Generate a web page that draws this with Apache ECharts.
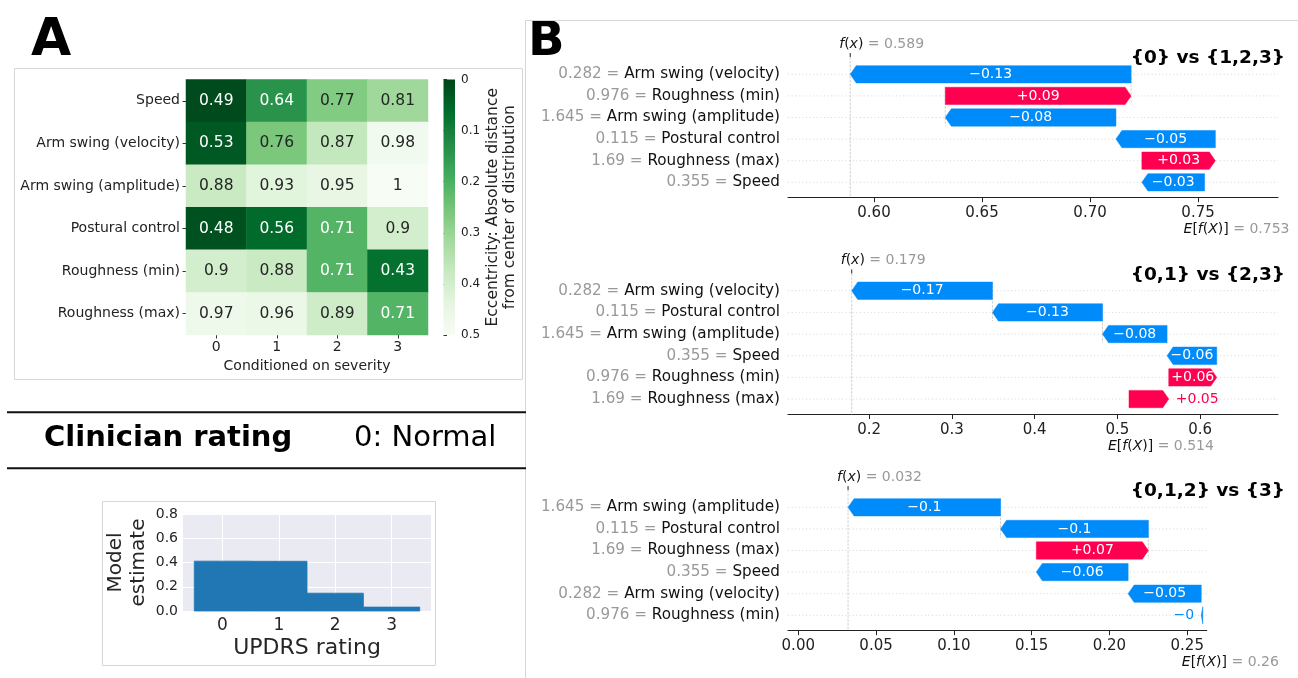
<!DOCTYPE html>
<html>
<head>
<meta charset="utf-8">
<script src="https://cdn.jsdelivr.net/npm/echarts@6/dist/echarts.min.js"></script>
<style>
html,body{margin:0;padding:0;background:#fff;}
#chart{width:1298px;height:678px;}
</style>
</head>
<body>
<div id="chart"></div>
<script>
// ---------------- DATA ----------------
// Panel A: heatmap
const heatFeatures = ['Speed', 'Arm swing (velocity)', 'Arm swing (amplitude)', 'Postural control', 'Roughness (min)', 'Roughness (max)'];
const heatSeverity = ['0', '1', '2', '3'];
const heatSpeed       = [0.49, 0.64, 0.77, 0.81];
const heatArmVelocity = [0.53, 0.76, 0.87, 0.98];
const heatArmAmplitude= [0.88, 0.93, 0.95, 1];
const heatPostural    = [0.48, 0.56, 0.71, 0.9];
const heatRoughMin    = [0.9, 0.88, 0.71, 0.43];
const heatRoughMax    = [0.97, 0.96, 0.89, 0.71];
const colorbarRange   = [0, 0.5];
const colorbarTicks   = [0, 0.1, 0.2, 0.3, 0.4, 0.5];

// Panel A: model estimate
const updrsRatings  = [0, 1, 2, 3];
const modelEstimate = [0.411, 0.410, 0.147, 0.032];
const estimateTicks = [0, 0.2, 0.4, 0.6, 0.8];

// Panel B: waterfalls
const p1Title = '{0} vs {1,2,3}';
const p1Features = ['Arm swing (velocity)', 'Roughness (min)', 'Arm swing (amplitude)', 'Postural control', 'Roughness (max)', 'Speed'];
const p1FeatureValues = ['0.282', '0.976', '1.645', '0.115', '1.69', '0.355'];
const p1Shap = [-0.130, 0.086, -0.079, -0.046, 0.034, -0.029];
const p1Base = 0.753;
const p1Ticks = ['0.60', '0.65', '0.70', '0.75'];
const p1Range = [0.5602, 0.787];

const p2Title = '{0,1} vs {2,3}';
const p2Features = ['Arm swing (velocity)', 'Postural control', 'Arm swing (amplitude)', 'Speed', 'Roughness (min)', 'Roughness (max)'];
const p2FeatureValues = ['0.282', '0.115', '1.645', '0.355', '0.976', '1.69'];
const p2Shap = [-0.170, -0.133, -0.078, -0.060, 0.058, 0.048];
const p2Base = 0.514;
const p2Ticks = ['0.2', '0.3', '0.4', '0.5', '0.6'];
const p2Range = [0.102, 0.694];

const p3Title = '{0,1,2} vs {3}';
const p3Features = ['Arm swing (amplitude)', 'Postural control', 'Roughness (max)', 'Speed', 'Arm swing (velocity)', 'Roughness (min)'];
const p3FeatureValues = ['1.645', '0.115', '1.69', '0.355', '0.282', '0.976'];
const p3Shap = [-0.098, -0.095, 0.072, -0.059, -0.047, -0.001];
const p3Base = 0.26;
const p3Ticks = ['0.00', '0.05', '0.10', '0.15', '0.20', '0.25'];
const p3Range = [-0.0066, 0.2625];

// ---------------- STYLE / LAYOUT ----------------
const FONT = '"DejaVu Sans", sans-serif';
const BLUE = '#008bfb', RED = '#ff0051';
const GREENS = ['#00441b', '#006d2c', '#238b45', '#41ab5d', '#74c476', '#a1d99b', '#c7e9c0', '#e5f5e0', '#f7fcf5'];
const AXIS_OFFSET = 4.6;

const panels = [
  {title: p1Title, features: p1Features, fvals: p1FeatureValues, shap: p1Shap, base: p1Base, ticks: p1Ticks, range: p1Range, left: 788, width: 490, top: 63.5, height: 129.6},
  {title: p2Title, features: p2Features, fvals: p2FeatureValues, shap: p2Shap, base: p2Base, ticks: p2Ticks, range: p2Range, left: 788, width: 490, top: 279.9, height: 130},
  {title: p3Title, features: p3Features, fvals: p3FeatureValues, shap: p3Shap, base: p3Base, ticks: p3Ticks, range: p3Range, left: 788, width: 418.7, top: 496.5, height: 129.6}
];

// shap's format_value: strip trailing zeros, unicode minus
function fmtVal(v, dec, sign) {
  const m = Math.pow(10, dec);
  let s = Math.abs(Math.round(Math.abs(v) * m + 1e-9) / m).toFixed(dec);
  if (v < 0) s = '-' + s;
  else if (sign) s = '+' + s;
  if (s.indexOf('.') >= 0) s = s.replace(/0+$/, '').replace(/\.$/, '');
  if (s[0] === '-') s = '\u2212' + s.slice(1);
  return s;
}

const mctx = document.createElement('canvas').getContext('2d');
function textW(str, size) { mctx.font = size + 'px "DejaVu Sans"'; return mctx.measureText(str).width; }

// cumulative positions
panels.forEach(p => {
  const n = p.shap.length;
  p.starts = new Array(n); p.ends = new Array(n);
  let acc = p.base;
  for (let i = n - 1; i >= 0; i--) { p.starts[i] = acc; acc += p.shap[i]; p.ends[i] = acc; }
  p.fx = acc;
  p.barData = p.shap.map((v, i) => [i, p.starts[i], p.ends[i], v]);
});

// heatmap data
const heatRows = [heatSpeed, heatArmVelocity, heatArmAmplitude, heatPostural, heatRoughMin, heatRoughMax];
const heatData = [];
heatRows.forEach((row, r) => row.forEach((v, c) => {
  const ecc = Math.abs(v - 0.5);
  heatData.push({value: [c, r, v, ecc], label: {color: ecc < 0.25 ? '#ffffff' : '#262626'}});
}));

// ---------------- OPTION ----------------
const grids = [
  {left: 186, top: 79.5, width: 242, height: 255.5},          // heatmap
  {left: 443.5, top: 79.5, width: 11.5, height: 255.5},       // colorbar
  {left: 183, top: 514, width: 248, height: 97, show: true, backgroundColor: '#eaeaf2', borderWidth: 0} // estimate
];
panels.forEach(p => grids.push({left: p.left, top: p.top, width: p.width, height: p.height}));
grids.forEach(g => { g.containLabel = false; g.outerBoundsMode = 'none'; });

const xAxes = [
  {gridIndex: 0, type: 'category', data: heatSeverity, position: 'bottom',
   axisLine: {show: false}, axisTick: {show: true, alignWithLabel: true, length: 3.5, lineStyle: {color: '#333'}},
   axisLabel: {fontFamily: FONT, fontSize: 14, color: '#222', margin: 5},
   splitLine: {show: false},
   name: 'Conditioned on severity', nameLocation: 'middle', nameGap: 24,
   nameTextStyle: {fontFamily: FONT, fontSize: 14, color: '#222'}},
  {gridIndex: 1, type: 'value', show: false, min: 0, max: 1},
  {gridIndex: 2, type: 'value', min: -0.7, max: 3.7,
   axisLine: {show: false},
   axisTick: {show: false, customValues: updrsRatings},
   axisLabel: {customValues: updrsRatings, fontFamily: FONT, fontSize: 17, color: '#262626', margin: 6},
   splitLine: {show: true, lineStyle: {color: '#ffffff', width: 1}},
   name: 'UPDRS rating', nameLocation: 'middle', nameGap: 26,
   nameTextStyle: {fontFamily: FONT, fontSize: 22, color: '#262626'}}
];
const yAxes = [
  {gridIndex: 0, type: 'category', data: heatFeatures, inverse: true,
   axisLine: {show: false}, axisTick: {show: true, alignWithLabel: true, length: 3.5, lineStyle: {color: '#333'}},
   axisLabel: {fontFamily: FONT, fontSize: 14, color: '#222', margin: 6},
   splitLine: {show: false}},
  {gridIndex: 1, type: 'value', min: colorbarRange[0], max: colorbarRange[1], inverse: true, position: 'right',
   axisLine: {show: false}, axisTick: {show: true, length: 3.5, customValues: colorbarTicks, lineStyle: {color: '#333'}},
   axisLabel: {customValues: colorbarTicks, fontFamily: FONT, fontSize: 12, color: '#222', margin: 6, formatter: v => String(+v.toFixed(1))},
   splitLine: {show: false},
   name: 'Eccentricity: Absolute distance\nfrom center of distribution', nameLocation: 'middle', nameRotate: 90, nameGap: 29,
   nameTextStyle: {fontFamily: FONT, fontSize: 15.5, color: '#222', lineHeight: 17}},
  {gridIndex: 2, type: 'value', min: 0, max: 0.8, interval: 0.2,
   axisLine: {show: false}, axisTick: {show: false},
   axisLabel: {fontFamily: FONT, fontSize: 14, color: '#262626', margin: 5, formatter: v => v.toFixed(1)},
   splitLine: {show: true, lineStyle: {color: '#ffffff', width: 1}},
   name: 'Model\nestimate', nameLocation: 'middle', nameRotate: 90, nameGap: 33,
   nameTextStyle: {fontFamily: FONT, fontSize: 20, color: '#262626', lineHeight: 23}}
];

const series = [
  {type: 'heatmap', xAxisIndex: 0, yAxisIndex: 0, data: heatData,
   label: {show: true, fontFamily: FONT, fontSize: 15.5, formatter: p => String(p.value[2]), textBorderWidth: 0},
   itemStyle: {borderWidth: 0}, emphasis: {disabled: true}},
  {type: 'custom', xAxisIndex: 2, yAxisIndex: 2, data: updrsRatings.map((r, i) => [r, modelEstimate[i]]),
   encode: {x: 0, y: 1}, silent: true,
   renderItem: (params, api) => {
     const x = api.value(0), v = api.value(1);
     const a = api.coord([x - 0.5, v]), b = api.coord([x + 0.5, 0]);
     return {type: 'rect', shape: {x: a[0], y: a[1], width: b[0] - a[0], height: b[1] - a[1]},
       style: {fill: '#2077b4', stroke: '#2077b4', lineWidth: 0.8}};
   }},
  // colorbar gradient drawn on its own axis
  {type: 'custom', xAxisIndex: 1, yAxisIndex: 1, data: [[0, colorbarRange[0], 1, colorbarRange[1]]],
   encode: {x: [0, 2], y: [1, 3]}, silent: true,
   renderItem: (params, api) => {
     const a = api.coord([api.value(0), api.value(1)]), b = api.coord([api.value(2), api.value(3)]);
     const stops = GREENS.map((c, i) => ({offset: i / (GREENS.length - 1), color: c}));
     return {type: 'rect', shape: {x: a[0], y: a[1], width: b[0] - a[0], height: b[1] - a[1]},
       style: {fill: new echarts.graphic.LinearGradient(0, 0, 0, 1, stops)}};
   }}
];

panels.forEach((p, k) => {
  const gi = 3 + k;
  xAxes.push({gridIndex: gi, type: 'value', min: p.range[0], max: p.range[1], offset: AXIS_OFFSET,
    axisLine: {show: true, onZero: false, lineStyle: {color: '#222', width: 1.2}},
    axisTick: {show: true, length: 4.5, customValues: p.ticks.map(Number), lineStyle: {color: '#222', width: 1}},
    axisLabel: {customValues: p.ticks.map(Number), fontFamily: FONT, fontSize: 15, color: '#222', margin: 8,
      formatter: v => { const i = p.ticks.map(Number).findIndex(t => Math.abs(t - v) < 1e-9); return i >= 0 ? p.ticks[i] : ''; }},
    splitLine: {show: false}});
  yAxes.push({gridIndex: gi, type: 'category', data: p.features, inverse: true,
    axisLine: {show: false}, axisTick: {show: false}, splitLine: {show: false},
    axisLabel: {margin: 8, fontFamily: FONT, fontSize: 15.2,
      formatter: (value, idx) => '{v|' + p.fvals[idx] + ' = }{n|' + value + '}',
      rich: {v: {color: '#999999', fontFamily: FONT, fontSize: 15.2}, n: {color: '#111111', fontFamily: FONT, fontSize: 15.2}}}});

  // annotations: f(x) line, connectors, labels, row guides
  series.push({type: 'custom', xAxisIndex: gi, yAxisIndex: gi, z: 1, silent: true, clip: false,
    data: [[p.fx, 0]], encode: {x: 0, y: 1},
    renderItem: (params, api) => {
      const cs = params.coordSys;
      const band = api.size([0, 1])[1];
      const axesTop = cs.y - 0.3 * band;
      const axisY = cs.y + cs.height + AXIS_OFFSET;
      const children = [];
      const n = p.shap.length;
      for (let i = 0; i < n; i++) {
        const yc = api.coord([p.range[0], i])[1];
        children.push({type: 'line', shape: {x1: cs.x, y1: yc, x2: cs.x + cs.width, y2: yc},
          style: {stroke: '#cccccc', lineWidth: 0.8, lineDash: [1, 2.6]}});
      }
      for (let i = 0; i + 4 < n; i++) {
        const x = api.coord([p.starts[i], i])[0];
        const y1 = api.coord([p.starts[i], i])[1] - 0.4 * band;
        const y2 = api.coord([p.starts[i], i + 1])[1] + 0.4 * band;
        children.push({type: 'line', shape: {x1: x, y1: y1, x2: x, y2: y2},
          style: {stroke: '#bbbbbb', lineWidth: 0.7, lineDash: [2.6, 1.2]}});
      }
      const fxX = api.coord([p.fx, 0])[0];
      children.push({type: 'line', shape: {x1: fxX, y1: axesTop, x2: fxX, y2: axisY},
        style: {stroke: '#bbbbbb', lineWidth: 0.7, lineDash: [2.6, 1.2]}});
      children.push({type: 'line', shape: {x1: fxX, y1: axesTop - 4, x2: fxX, y2: axesTop},
        style: {stroke: '#222', lineWidth: 1}});
      children.push({type: 'text', x: fxX - 11, y: axesTop - 13,
        style: {text: '{i|f}({i|x}){g| = ' + fmtVal(p.fx, 3, false) + '}', align: 'left', verticalAlign: 'middle',
          font: '14px ' + FONT, fill: '#111',
          rich: {i: {fontStyle: 'italic', fontFamily: FONT, fontSize: 14, fill: '#111'}, g: {fill: '#999999', fontFamily: FONT, fontSize: 14}}}});
      const bX = api.coord([p.base, 0])[0];
      children.push({type: 'text', x: bX - 21, y: axisY + 31.5,
        style: {text: '{i|E}[{i|f}({i|X})]{g| = ' + fmtVal(p.base, 3, false) + '}', align: 'left', verticalAlign: 'middle',
          font: '14px ' + FONT, fill: '#111',
          rich: {i: {fontStyle: 'italic', fontFamily: FONT, fontSize: 14, fill: '#111'}, g: {fill: '#999999', fontFamily: FONT, fontSize: 14}}}});
      return {type: 'group', children: children};
    }});

  // waterfall bars
  series.push({type: 'custom', xAxisIndex: gi, yAxisIndex: gi, z: 2, silent: true, clip: false,
    data: p.barData, encode: {x: [1, 2], y: 0},
    renderItem: (params, api) => {
      const row = api.value(0), s = api.value(1), e = api.value(2), v = api.value(3);
      const band = api.size([0, 1])[1];
      const h = band * 0.8;
      const ps = api.coord([s, row]), pe = api.coord([e, row]);
      const y = ps[1], x0 = ps[0], xt = pe[0];
      const dir = xt >= x0 ? 1 : -1;
      const len = Math.abs(xt - x0);
      const hl = Math.min(6, len);
      const xb = xt - dir * hl;
      const color = v >= 0 ? RED : BLUE;
      const children = [{type: 'polygon', shape: {points: [[x0, y - h / 2], [xb, y - h / 2], [xt, y], [xb, y + h / 2], [x0, y + h / 2]]},
        style: {fill: color, stroke: color, lineWidth: 0.5}}];
      const txt = fmtVal(v, 2, true);
      const tw = textW(txt, 14);
      if (tw < len) {
        children.push({type: 'text', x: (x0 + xt) / 2, y: y, style: {text: txt, align: 'center', verticalAlign: 'middle', font: '14px ' + FONT, fill: '#ffffff'}});
      } else {
        children.push({type: 'text', x: xt + dir * 7, y: y, style: {text: txt, align: dir > 0 ? 'left' : 'right', verticalAlign: 'middle', font: '14px ' + FONT, fill: color}});
      }
      return {type: 'group', children: children};
    }});
});

// panel decorations
const graphics = [
  {type: 'text', left: 31, top: 15, style: {text: 'A', font: 'bold 52px ' + FONT, fill: '#000'}},
  {type: 'text', left: 528, top: 19, style: {text: 'B', font: 'bold 48px ' + FONT, fill: '#000'}},
  {type: 'rect', shape: {x: 14.5, y: 68.5, width: 508, height: 311}, style: {fill: 'none', stroke: '#d6d6d6', lineWidth: 1}, z: -1},
  {type: 'line', shape: {x1: 525.5, y1: 20, x2: 525.5, y2: 678}, style: {stroke: '#d6d6d6', lineWidth: 1}},
  {type: 'line', shape: {x1: 525.5, y1: 20.5, x2: 1298, y2: 20.5}, style: {stroke: '#d6d6d6', lineWidth: 1}},
  {type: 'line', shape: {x1: 7, y1: 412.3, x2: 526, y2: 412.3}, style: {stroke: '#111', lineWidth: 2}},
  {type: 'line', shape: {x1: 7, y1: 468.3, x2: 526, y2: 468.3}, style: {stroke: '#111', lineWidth: 2}},
  {type: 'text', x: 44, y: 438, style: {text: 'Clinician rating', font: 'bold 29px ' + FONT, fill: '#000', verticalAlign: 'middle'}},
  {type: 'text', x: 354, y: 438, style: {text: '0: Normal', font: '29px ' + FONT, fill: '#000', verticalAlign: 'middle'}},
  {type: 'rect', shape: {x: 102.5, y: 501.5, width: 333, height: 164}, style: {fill: 'none', stroke: '#d6d6d6', lineWidth: 1}, z: -1}
];
panels.forEach(p => {
  graphics.push({type: 'text', x: 1285, y: p.top - 5.2, style: {text: p.title, font: 'bold 18.5px ' + FONT, fill: '#000', align: 'right', verticalAlign: 'middle'}});
});

const option = {
  animation: false,
  backgroundColor: '#ffffff',
  textStyle: {fontFamily: FONT},
  grid: grids,
  xAxis: xAxes,
  yAxis: yAxes,
  visualMap: {
    type: 'continuous', show: false, seriesIndex: 0, dimension: 3,
    min: colorbarRange[0], max: colorbarRange[1],
    inRange: {color: GREENS}
  },
  graphic: graphics,
  series: series
};

const chart = echarts.init(document.getElementById('chart'), null, {renderer: 'canvas'});
chart.setOption(option);
</script>
</body>
</html>
